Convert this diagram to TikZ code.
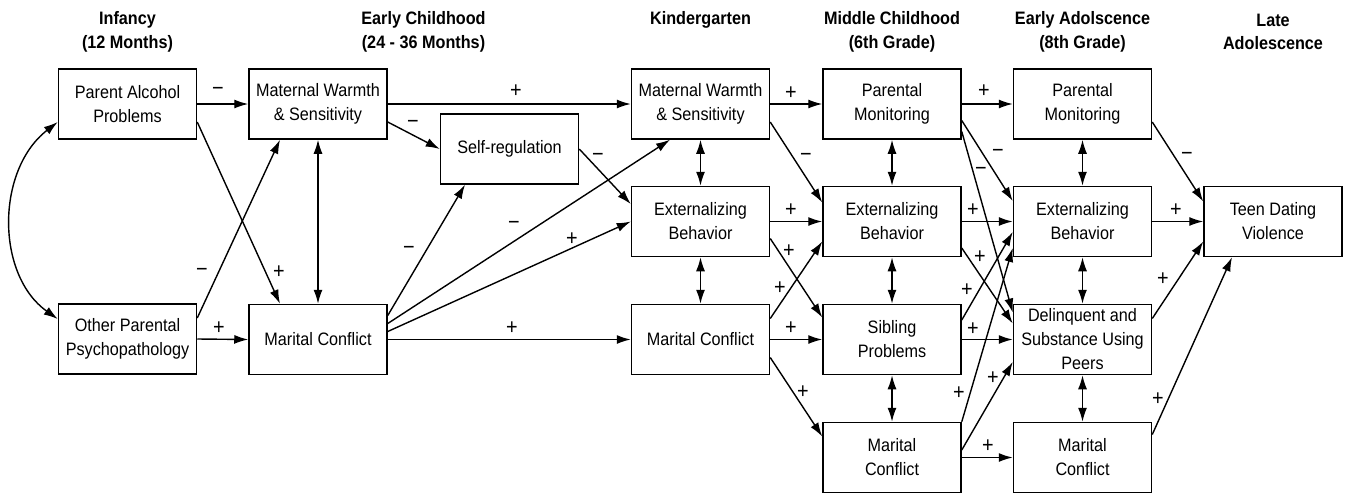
\documentclass[tikz,border=0pt]{standalone}
\usepackage{fontspec}
\setmainfont{Liberation Sans}[FakeStretch=0.9]
\usetikzlibrary{arrows.meta,calc}
\begin{document}
\begin{tikzpicture}[x=1pt,y=-1pt,
  box/.style={draw, line width=1.5pt, minimum width=138pt, minimum height=70pt, inner sep=0pt, align=center, font=\fontsize{18}{24}\selectfont},
  hdr/.style={align=center, font=\fontsize{18}{23.5}\selectfont\bfseries},
  arr/.style={line width=1.4pt, -{Latex[length=14pt,width=9pt]}},
  dbl/.style={line width=1.4pt, {Latex[length=14pt,width=9pt]}-{Latex[length=14pt,width=9pt]}},
  lbl/.style={font=\fontsize{22}{22}\selectfont, inner sep=0pt}]
\useasboundingbox (0,0) rectangle (1351,496);
% headers
\node[hdr] (h1) at (127.5,32) {Infancy\\(12 Months)};
\node[hdr] (h2) at (423.5,32) {Early Childhood\\(24 - 36 Months)};
\node[hdr] (h3) at (700.5,20) {Kindergarten};
\node[hdr] (h4) at (892,32) {Middle Childhood\\(6th Grade)};
\node[hdr] (h5) at (1082.5,32) {Early Adolscence\\(8th Grade)};
\node[hdr] (h6) at (1273,32) {Late\\Adolescence};
% boxes
\node[box] (pap) at (127.5,104) {Parent Alcohol\\Problems};
\node[box] (opp) at (127.5,339) {Other Parental\\Psychopathology};
\node[box] (mw1) at (318,104) {Maternal Warmth\\\& Sensitivity};
\node[box] (mc1) at (318,339.5) {Marital Conflict};
\node[box] (sr) at (509.5,149) {Self-regulation};
\node[box] (mw2) at (700.5,104) {Maternal Warmth\\\& Sensitivity};
\node[box] (eb2) at (700.5,221.5) {Externalizing\\Behavior};
\node[box] (mc2) at (700.5,339.5) {Marital Conflict};
\node[box] (pm3) at (892,104) {Parental\\Monitoring};
\node[box] (eb3) at (892,221.5) {Externalizing\\Behavior};
\node[box] (sp3) at (892,339.5) {Sibling\\Problems};
\node[box] (mc3) at (892,457.5) {Marital\\Conflict};
\node[box] (pm4) at (1082.5,104) {Parental\\Monitoring};
\node[box] (eb4) at (1082.5,221.5) {Externalizing\\Behavior};
\node[box] (dsp4) at (1082.5,339.5) {Delinquent and\\Substance Using\\Peers};
\node[box] (mc4) at (1082.5,457.5) {Marital\\Conflict};
\node[box] (tdv) at (1273,221.5) {Teen Dating\\Violence};
% connectors
\draw[arr] (pap.east) -- (mw1.west) node[lbl] (l1) at (218,91) {−};
\draw[arr] ([yshift=-18pt]pap.east) -- ([xshift=-38pt]mc1.north) node[lbl] (l2) at (279,272) {+};
\draw[arr] ([yshift=21pt]opp.east) -- ([xshift=-38pt]mw1.south) node[lbl] (l3) at (202,272) {−};
\draw[arr] (opp.east) -- (mc1.west) node[lbl] (l4) at (219,328) {+};
\draw[dbl] ([yshift=-18pt]pap.west) .. controls +(-62,48) and +(-62,-44) .. ([yshift=20pt]opp.west);
\draw[dbl] (mw1.south) -- (mc1.north);
\draw[arr] (mw1.east) -- (mw2.west) node[lbl] (l7) at (516,91) {+};
\draw[arr] ([yshift=-18pt]mw1.east) -- (sr.west) node[lbl] (l8) at (413,124) {−};
\draw[arr] (sr.east) -- ([yshift=17.5pt]eb2.west) node[lbl] (l9) at (598,157) {−};
\draw[arr] ([yshift=24pt]mc1.east) -- ([xshift=-44.5pt]sr.south) node[lbl] (l10) at (409,250) {−};
\draw[arr] ([yshift=16pt]mc1.east) -- ([xshift=-30.5pt]mw2.south) node[lbl] (l11) at (514,225) {−};
\draw[arr] ([yshift=8pt]mc1.east) -- (eb2.west) node[lbl] (l12) at (572,239) {+};
\draw[arr] (mc1.east) -- (mc2.west) node[lbl] (l13) at (512,328) {+};
\draw[dbl] (mw2.south) -- (eb2.north);
\draw[dbl] (eb2.south) -- (mc2.north);
\draw[arr] (mw2.east) -- (pm3.west) node[lbl] (l16) at (791,93) {+};
\draw[arr] ([yshift=-18pt]mw2.east) -- ([yshift=19pt]eb3.west) node[lbl] (l17) at (806,157) {−};
\draw[arr] (eb2.east) -- (eb3.west) node[lbl] (l18) at (791,210) {+};
\draw[arr] ([yshift=-17pt]eb2.east) -- ([yshift=22pt]sp3.west) node[lbl] (l19) at (789,251) {+};
\draw[arr] ([yshift=21pt]mc2.east) -- ([yshift=-20pt]eb3.west) node[lbl] (l20) at (780,288) {+};
\draw[arr] (mc2.east) -- (sp3.west) node[lbl] (l21) at (791,328) {+};
\draw[arr] ([yshift=-18pt]mc2.east) -- ([yshift=21pt]mc3.west) node[lbl] (l22) at (803,392) {+};
\draw[dbl] (pm3.south) -- (eb3.north);
\draw[dbl] (eb3.south) -- (sp3.north);
\draw[dbl] (sp3.south) -- (mc3.north);
\draw[arr] (pm3.east) -- (pm4.west) node[lbl] (l26) at (984,91) {+};
\draw[arr] ([yshift=-16.5pt]pm3.east) -- ([yshift=20.5pt]eb4.west) node[lbl] (l27) at (998,153) {−};
\draw[arr] ([yshift=-27.5pt]pm3.east) -- ([yshift=27pt]dsp4.west) node[lbl] (l28) at (981,171) {−};
\draw[arr] (eb3.east) -- (eb4.west) node[lbl] (l29) at (973,210) {+};
\draw[arr] ([yshift=-26.5pt]eb3.east) -- ([yshift=16pt]dsp4.west) node[lbl] (l28b) at (980,257) {+};
\draw[arr] ([yshift=19.5pt]sp3.east) -- ([yshift=-10.5pt]eb4.west) node[lbl] (l30) at (967,290) {+};
\draw[arr] (sp3.east) -- (dsp4.west) node[lbl] (l31) at (973,329) {+};
\draw[arr] (mc3.north east) -- ([yshift=-26.5pt]eb4.west) node[lbl] (l32) at (959,393) {+};
\draw[arr] ([yshift=7.5pt]mc3.east) -- ([yshift=-22.5pt]dsp4.west) node[lbl] (l33) at (993,378) {+};
\draw[arr] (mc3.east) -- (mc4.west) node[lbl] (l34) at (988,446) {+};
\draw[dbl] (pm4.south) -- (eb4.north);
\draw[dbl] (eb4.south) -- (dsp4.north);
\draw[dbl] (dsp4.south) -- (mc4.north);
\draw[arr] ([yshift=-18pt]pm4.east) -- ([yshift=20pt]tdv.west) node[lbl] (l38) at (1187,156) {−};
\draw[arr] (eb4.east) -- (tdv.west) node[lbl] (l39) at (1176,210) {+};
\draw[arr] ([yshift=21pt]dsp4.east) -- ([yshift=-20pt]tdv.west) node[lbl] (l40) at (1163,279) {+};
\draw[arr] ([yshift=23pt]mc4.east) -- ([xshift=-41pt]tdv.south) node[lbl] (l41) at (1158,399) {+};
\end{tikzpicture}
\end{document}
